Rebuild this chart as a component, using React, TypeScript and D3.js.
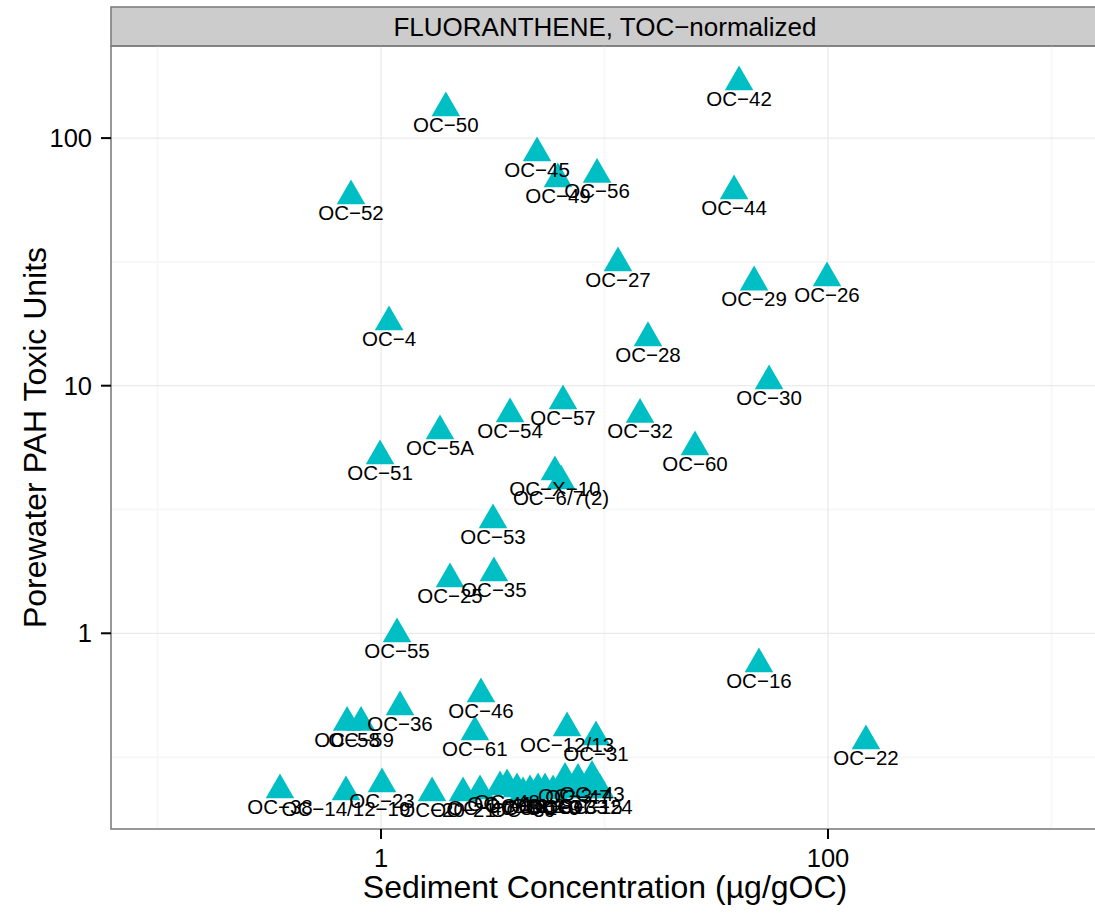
import React, { useRef, useEffect } from "react";
import * as d3 from "d3";

// station labels, sediment conc (ug/gOC) and porewater toxic units
const stations = [
  "OC−42", "OC−50", "OC−45", "OC−49", "OC−56", "OC−52", "OC−44", "OC−27",
  "OC−29", "OC−26", "OC−4", "OC−28", "OC−30", "OC−57", "OC−54", "OC−32",
  "OC−5A", "OC−60", "OC−51", "OC−X−10", "OC−6/7(2)", "OC−53", "OC−25", "OC−35",
  "OC−55", "OC−16", "OC−46", "OC−36", "OC−58", "OC−59", "OC−61", "OC−12/13",
  "OC−31", "OC−22", "OC−38", "OC−14/12−19", "OC−23", "OC−20", "OC−21", "OC−40",
  "OC−41", "OC−48", "OC−11", "OC−39", "OC−1", "OC−2", "OC−8", "OC−9",
  "OC−37", "OC−3", "OC−33", "OC−47", "OC−15", "OC−43", "OC−24",
];
const sedConc = [
  40.0, 1.95, 4.99, 6.19, 9.26, 0.734, 38.0, 11.49,
  46.7, 99.0, 1.086, 15.65, 54.5, 6.52, 3.78, 14.42,
  1.836, 25.4, 0.99, 6.0, 6.39, 3.17, 2.035, 3.2,
  1.179, 49.1, 2.8, 1.216, 0.705, 0.814, 2.63, 6.8,
  9.16, 147.9, 0.353, 0.697, 1.01, 1.692, 2.328, 2.773,
  3.408, 3.663, 4.06, 4.318, 4.642, 5.041, 5.418, 5.884,
  6.324, 6.658, 7.379, 7.61, 8.612, 8.79, 9.547,
];
const toxicUnits = [
  168.5, 132.3, 87.1, 68.4, 71.3, 58.4, 61.1, 31.3,
  26.2, 27.2, 18.1, 15.6, 10.45, 8.67, 7.69, 7.65,
  6.56, 5.65, 5.2, 4.48, 4.12, 2.87, 1.657, 1.752,
  0.9935, 0.751, 0.569, 0.504, 0.436, 0.436, 0.3995, 0.4144,
  0.3813, 0.367, 0.233, 0.2286, 0.246, 0.2265, 0.2265, 0.2307,
  0.2393, 0.244, 0.235, 0.2265, 0.2307, 0.235, 0.235, 0.2307,
  0.2329, 0.2589, 0.2329, 0.2565, 0.2329, 0.2638, 0.2329,
];

const xTicks = [1, 100];
const xMinor = [0.1, 10, 1000];
const yTicks = [1, 10, 100];
const yMinor = [0.316, 3.16, 31.6];

const FONT = "'Liberation Sans', Arial, Helvetica, sans-serif";

const ScatterChart = ({ width = 1095, height = 913 }) => {
  const node: any = useRef();

  useEffect(() => {
    document.body.style.margin = "0";
    const svg = d3.select(node.current);
    svg.selectAll("*").remove();
    svg.attr("width", width).attr("height", height);

    const left = 111, right = 1099, top = 46, bottom = 829;

    const x = d3.scaleLog().domain([0.0619, 1632]).range([left, right]);
    const y = d3.scaleLog().domain([0.162, 235.5]).range([bottom, top]);

    svg.append("rect").attr("width", width).attr("height", height).attr("fill", "#fff");

    // strip
    svg
      .append("rect")
      .attr("x", left)
      .attr("y", 7)
      .attr("width", right - left)
      .attr("height", top - 7)
      .attr("fill", "#CCCCCC")
      .attr("stroke", "#7F7F7F")
      .attr("stroke-width", 1.6);
    svg
      .append("text")
      .attr("x", (left + right) / 2)
      .attr("y", 36)
      .attr("text-anchor", "middle")
      .style("font-family", FONT)
      .style("font-size", "26px")
      .text("FLUORANTHENE, TOC−normalized");

    // grid
    const grid = svg.append("g");
    xMinor.forEach((v) =>
      grid.append("line").attr("x1", x(v)).attr("x2", x(v)).attr("y1", top).attr("y2", bottom)
        .attr("stroke", "#F7F7F7").attr("stroke-width", 2)
    );
    yMinor.forEach((v) =>
      grid.append("line").attr("x1", left).attr("x2", right).attr("y1", y(v)).attr("y2", y(v))
        .attr("stroke", "#F7F7F7").attr("stroke-width", 2)
    );
    xTicks.forEach((v) =>
      grid.append("line").attr("x1", x(v)).attr("x2", x(v)).attr("y1", top).attr("y2", bottom)
        .attr("stroke", "#E5E5E5").attr("stroke-width", 1)
    );
    yTicks.forEach((v) =>
      grid.append("line").attr("x1", left).attr("x2", right).attr("y1", y(v)).attr("y2", y(v))
        .attr("stroke", "#E5E5E5").attr("stroke-width", 1)
    );

    // points
    const idx = d3.range(stations.length);
    const tri = d3.symbol().type(d3.symbolTriangle).size(354);
    svg
      .append("g")
      .selectAll("path")
      .data(idx)
      .enter()
      .append("path")
      .attr("d", tri as any)
      .attr("transform", (i: number) => `translate(${x(sedConc[i])},${y(toxicUnits[i])})`)
      .attr("fill", "#00BFC4");

    // labels
    svg
      .append("g")
      .selectAll("text")
      .data(idx)
      .enter()
      .append("text")
      .attr("x", (i: number) => x(sedConc[i]))
      .attr("y", (i: number) => y(toxicUnits[i]) + 24)
      .attr("text-anchor", "middle")
      .style("font-family", FONT)
      .style("font-size", "20.5px")
      .text((i: number) => stations[i]);

    // panel border
    svg
      .append("rect")
      .attr("x", left)
      .attr("y", top)
      .attr("width", right - left)
      .attr("height", bottom - top)
      .attr("fill", "none")
      .attr("stroke", "#7F7F7F")
      .attr("stroke-width", 1.6);

    // axes
    const fmt = (v: number) => String(v);
    xTicks.forEach((v) => {
      svg.append("line").attr("x1", x(v)).attr("x2", x(v)).attr("y1", bottom).attr("y2", bottom + 10)
        .attr("stroke", "#000").attr("stroke-width", 2);
      svg.append("text").attr("x", x(v)).attr("y", bottom + 38).attr("text-anchor", "middle")
        .style("font-family", FONT).style("font-size", "25.5px").text(fmt(v));
    });
    yTicks.forEach((v) => {
      svg.append("line").attr("x1", left - 10).attr("x2", left).attr("y1", y(v)).attr("y2", y(v))
        .attr("stroke", "#000").attr("stroke-width", 2);
      svg.append("text").attr("x", left - 19).attr("y", y(v) + 9).attr("text-anchor", "end")
        .style("font-family", FONT).style("font-size", "25.5px").text(fmt(v));
    });

    svg
      .append("text")
      .attr("x", (left + right) / 2)
      .attr("y", 898)
      .attr("text-anchor", "middle")
      .style("font-family", FONT)
      .style("font-size", "32px")
      .text("Sediment Concentration (µg/gOC)");
    svg
      .append("text")
      .attr("transform", `translate(46,${(top + bottom) / 2}) rotate(-90)`)
      .attr("text-anchor", "middle")
      .style("font-family", FONT)
      .style("font-size", "32px")
      .text("Porewater PAH Toxic Units");
  }, [width, height]);

  return <svg ref={node} style={{ display: "block" }}></svg>;
};

export default function App() {
  return <ScatterChart />;
}
